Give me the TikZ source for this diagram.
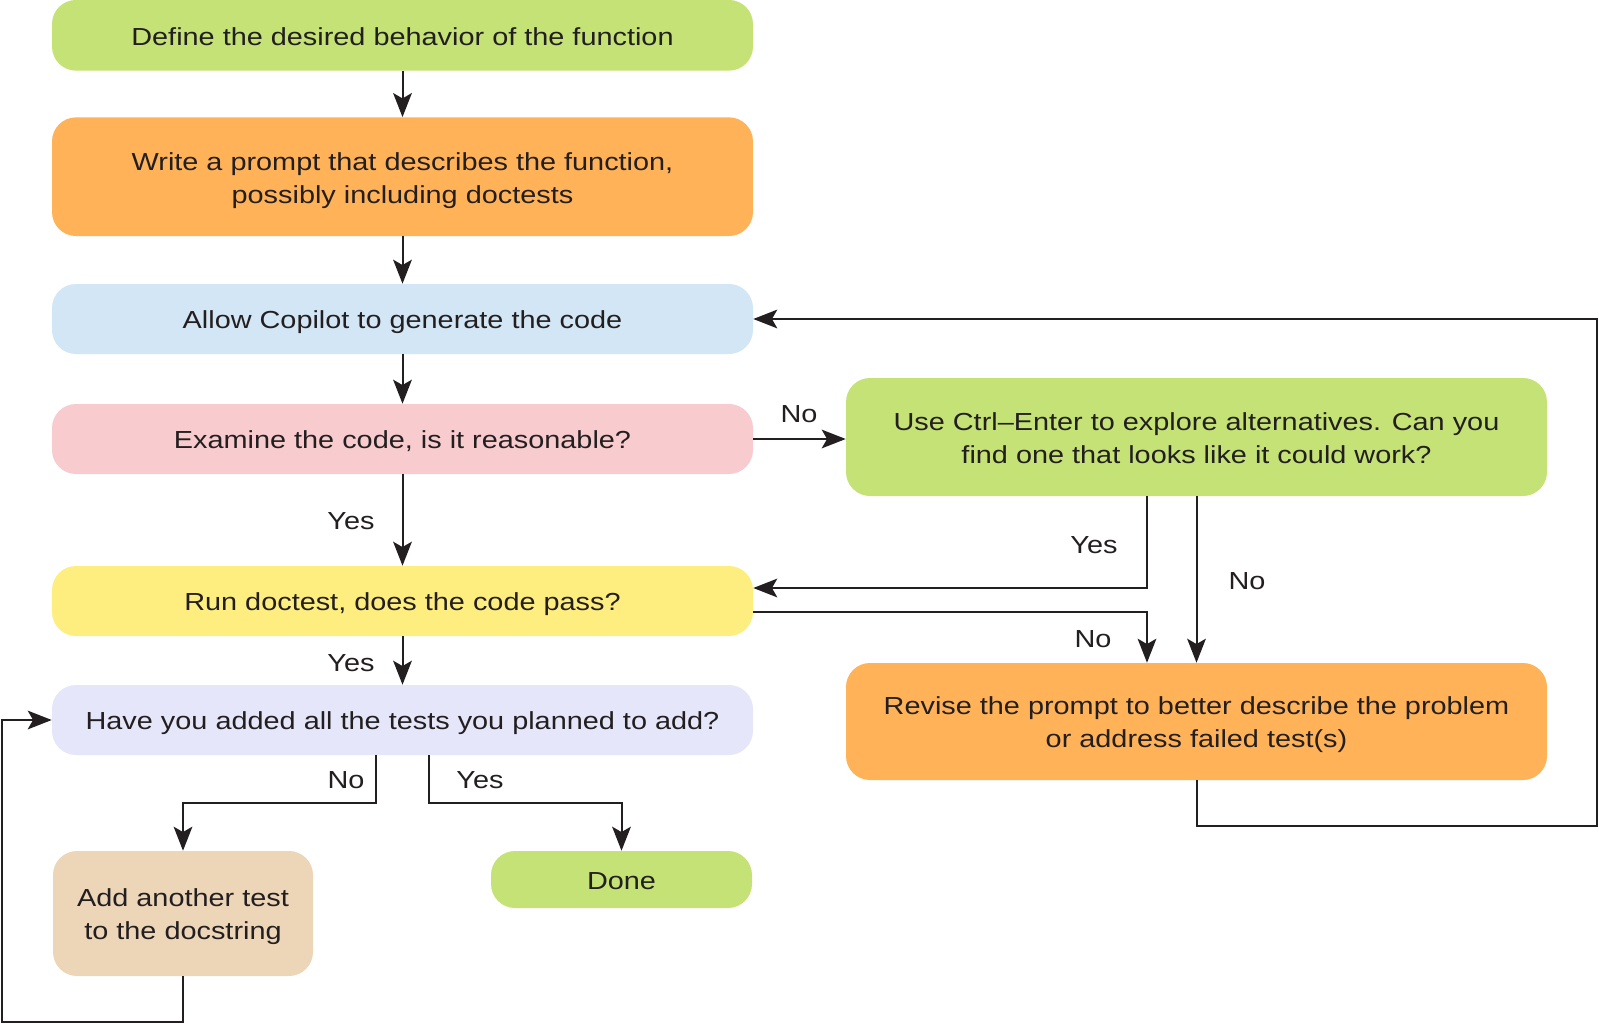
\documentclass[tikz,border=0pt]{standalone}
\usepackage{fontspec}
\setmainfont{Liberation Sans}[FakeStretch=1.17]
\usetikzlibrary{arrows.meta,calc}
\definecolor{ink}{RGB}{35,31,32}
\definecolor{cgreen}{RGB}{196,226,117}
\definecolor{corange}{RGB}{255,178,87}
\definecolor{cblue}{RGB}{210,230,245}
\definecolor{cpink}{RGB}{248,203,206}
\definecolor{cyellow}{RGB}{254,238,128}
\definecolor{clav}{RGB}{230,230,250}
\definecolor{ctan}{RGB}{237,213,184}
\newcommand{\mystrut}{\rule[-4.75pt]{0pt}{24.25pt}}
\begin{document}
\begin{tikzpicture}[x=0.75pt,y=-0.75pt,
  box/.style={draw=none, rounded corners=18pt, align=center, text=ink, inner sep=0pt,
    font=\fontsize{18.5pt}{24.75pt}\selectfont},
  wide/.style={box, minimum width=525.75pt},
  lbl/.style={text=ink, inner sep=0pt, font=\fontsize{18.5pt}{24.75pt}\selectfont},
  arr/.style={draw=ink, line width=1.5pt, -{Stealth[length=18pt,width=14pt,inset=4pt]}},
  ln/.style={draw=ink, line width=1.5pt}]
\useasboundingbox (0,0) rectangle (1599,1024);
\node[wide, fill=cgreen, minimum height=53pt] (b1) at (402.5,35.3) {\mystrut Define the desired behavior of the function};
\node[wide, fill=corange, minimum height=89pt] (b2) at (402.5,176.7) {\mystrut Write a prompt that describes the function,\\\mystrut possibly including doctests};
\node[wide, fill=cblue, minimum height=52.5pt] (b3) at (402.5,319) {\mystrut Allow Copilot to generate the code};
\node[wide, fill=cpink, minimum height=52.5pt] (b4) at (402.5,439) {\mystrut Examine the code, is it reasonable?};
\node[wide, fill=cyellow, minimum height=52.5pt] (b5) at (402.5,601) {\mystrut Run doctest, does the code pass?};
\node[wide, fill=clav, minimum height=52.5pt] (b6) at (402.5,720) {\mystrut Have you added all the tests you planned to add?};
\node[box, fill=ctan, minimum width=195pt, minimum height=93.75pt] (b7) at (183,913.5) {\mystrut Add another test\\\mystrut to the docstring};
\node[box, fill=cgreen, minimum width=195.75pt, minimum height=42.75pt] (b8) at (621.5,879.5) {\mystrut Done};
\node[wide, fill=cgreen, minimum height=88.5pt] (b9) at (1196.5,437) {\mystrut Use Ctrl–Enter to explore alternatives. Can you\\\mystrut find one that looks like it could work?};
\node[wide, fill=corange, minimum height=87.75pt] (b10) at (1196.5,721.5) {\mystrut Revise the prompt to better describe the problem\\\mystrut or address failed test(s)};
% central column
\draw[arr] (b1) -- (b2);
\draw[arr] (b2) -- (b3);
\draw[arr] (b3) -- (b4);
\draw[arr] (b4) -- (b5);
\draw[arr] (b5) -- (b6);
% examine -> explore
\draw[arr] (b4.east) -- (b4.east -| b9.west);
% explore yes -> run doctest
\draw[arr] ($(b9.south)+(-49.5,0)$) |- ($(b5.east)+(0,-13)$);
% explore no -> revise
\draw[arr] (b9.south) -- (b10.north);
% run doctest no -> revise
\draw[arr] ($(b5.east)+(0,11)$) -| ($(b10.north)+(-49.5,0)$);
% revise -> allow copilot
\coordinate (r1) at (1597,826);
\draw[arr] (b10.south) |- (r1) |- (b3.east);
% tests added
\draw[arr] ($(b6.south)+(-26.5,0)$) |- ($(b7.north)+(0,-48)$) -- (b7.north);
\draw[arr] ($(b6.south)+(26.5,0)$) |- ($(b8.north)+(0,-48)$) -- (b8.north);
% add test loop
\coordinate (l1) at (2,1022);
\draw[arr] (b7.south) |- (l1) |- (b6.west);
% labels
\node[lbl] (n1) at (799,414) {No};
\node[lbl] (y1) at (351,521) {Yes};
\node[lbl] (y2) at (1094,545) {Yes};
\node[lbl] (n2) at (1247,581) {No};
\node[lbl] (n3) at (1093,639) {No};
\node[lbl] (y3) at (351,663) {Yes};
\node[lbl] (n4) at (346,780) {No};
\node[lbl] (y4) at (480,780) {Yes};
\end{tikzpicture}
\end{document}
